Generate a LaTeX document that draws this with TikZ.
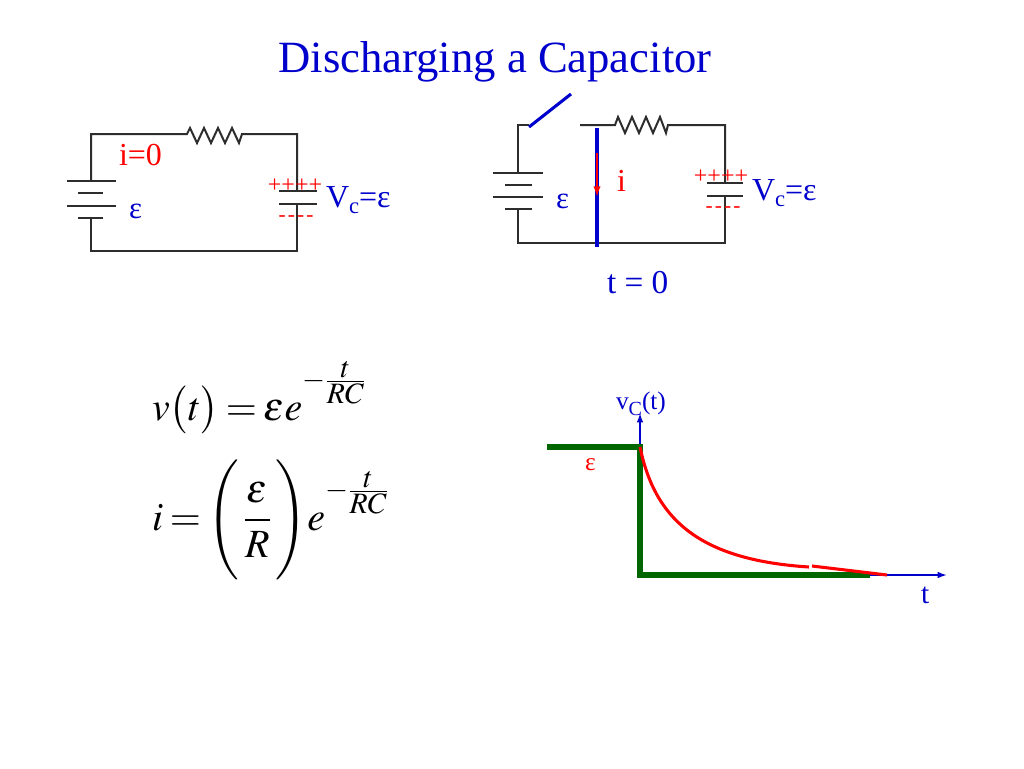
\documentclass[tikz,border=0pt]{standalone}
\usepackage{mathptmx}
\usepackage[no-math]{fontspec}
\setmainfont{Liberation Serif}
\usetikzlibrary{arrows.meta}
\definecolor{tblue}{RGB}{0,0,204}
\definecolor{tred}{RGB}{255,0,0}
\definecolor{tgreen}{RGB}{0,102,0}
\definecolor{wirec}{RGB}{45,45,45}
\newcommand\fs[1]{\fontsize{#1}{#1}\selectfont}
\newcommand\lowc[2]{\raisebox{-#2}{\fs{#1}c}}
\newcommand\dashes{-\hspace{1.6pt}-\hspace{1.6pt}-\hspace{1.6pt}-}
\newcommand\expo{\raisebox{11pt}{$\scriptstyle -\frac{\scriptstyle t}{\scriptstyle RC}$}}
\begin{document}
\begin{tikzpicture}[x=0.75pt,y=-0.75pt,
  wire/.style={draw=wirec,line width=1.5pt,line join=miter},
  plate/.style={draw=wirec,line width=1.6pt},
  lbl/.style={inner sep=0pt,outer sep=0pt},
  bluelbl/.style={lbl,text=tblue},
  redlbl/.style={lbl,text=tred},
  axis/.style={draw=tblue,line width=1.3pt,-{Latex[length=7pt,width=5pt]}},
  stepline/.style={draw=tgreen,line width=3.8pt},
  decay/.style={draw=tred,line width=2.3pt}]
\useasboundingbox (0,0) rectangle (1024,768);
\fill[white] (0,0) rectangle (1024,768);

% title
\node[bluelbl,anchor=base] (title) at (495,72) {\fs{33.5}Discharging a Capacitor};

% ---------------- circuit 1 ----------------
\coordinate (tl1) at (91,134);
\coordinate (tr1) at (297,134);
\coordinate (br1) at (297,251);
\coordinate (bl1) at (91,251);
\draw[wire] (91,181) -- (tl1) -- (187,134) -- (190,128) -- (197,143) -- (204,128) -- (211,143) -- (218,128) -- (225,143) -- (232,128) -- (239,143) -- (242,134) -- (tr1) -- (297,191);
\draw[wire] (297,204) -- (br1) -- (bl1) -- (91,218);
\draw[plate] (67,181) -- (116,181);
\draw[plate] (78,193) -- (103,193);
\draw[plate] (67,206) -- (116,206);
\draw[plate] (78,218) -- (103,218);
\draw[plate] (279,191) -- (317,191);
\draw[plate] (279,204) -- (317,204);
\node[redlbl,anchor=base west] (i0) at (119,165) {\fs{24}i=0};
\node[bluelbl,anchor=base west] (eps1) at (129,218) {\fs{23}ε};
\node[redlbl,anchor=base] (plus1) at (295,192) {\fs{18}++++};
\node[redlbl,anchor=base] (minus1) at (296,221) {\fs{16}\dashes};
\node[bluelbl,anchor=base west] (vc1) at (326,207) {\fs{24}V\lowc{17}{5pt}=ε};

% ---------------- circuit 2 ----------------
\coordinate (tl2) at (518,125);
\coordinate (tr2) at (725,125);
\coordinate (br2) at (725,243);
\coordinate (bl2) at (518,243);
\coordinate (sw1) at (529,127);
\coordinate (sw2) at (571,94);
\draw[wire] (518,173) -- (tl2) -- (529,125);
\draw[wire] (580,125) -- (615,125) -- (618,117) -- (625,133) -- (632,117) -- (639,133) -- (646,117) -- (653,133) -- (660,117) -- (666,133) -- (668,125) -- (tr2) -- (725,183);
\draw[wire] (725,196) -- (br2) -- (bl2) -- (518,209);
\draw[plate] (493,173) -- (543,173);
\draw[plate] (505,185) -- (532,185);
\draw[plate] (493,197) -- (543,197);
\draw[plate] (505,209) -- (532,209);
\draw[plate] (707,183) -- (743,183);
\draw[plate] (707,196) -- (743,196);
\draw[draw=tblue,line width=2.3pt] (sw1) -- (sw2);
\coordinate (sh1) at (597,128);
\coordinate (sh2) at (597,247);
\draw[draw=tblue,line width=2.6pt] (sh1) -- (sh2);
\coordinate (ia) at (597,153);
\coordinate (ib) at (597,197);
\draw[draw=tred,line width=1.2pt,-{Latex[length=8pt,width=5.5pt]}] (ia) -- (ib);
\node[redlbl,anchor=base west] (i2) at (617,191) {\fs{24}i};
\node[bluelbl,anchor=base west] (eps2) at (556,208) {\fs{23}ε};
\node[redlbl,anchor=base] (plus2) at (721,183) {\fs{18}++++};
\node[redlbl,anchor=base] (minus2) at (723,212) {\fs{16}\dashes};
\node[bluelbl,anchor=base west] (vc2) at (752,200) {\fs{24}V\lowc{17}{5pt}=ε};
\node[bluelbl,anchor=base west] (t0) at (607,293) {\fs{25}t = 0};

% ---------------- equations ----------------
\node[lbl,anchor=base west] (eq1) at (152,420) {\fs{30}\thickmuskip=3mu$\displaystyle v\bigl(t\bigr)=\epsilon e^{\expo}$};
\node[lbl,anchor=base west] (eq2) at (152,530) {\fs{30}\thickmuskip=3mu$\displaystyle i=\Biggl(\mkern2mu\frac{\epsilon}{R}\mkern2mu\Biggr)e^{\expo}$};

% ---------------- graph ----------------
\coordinate (o) at (640,575);
\coordinate (ytop) at (640,413);
\coordinate (xend) at (947,575);
\draw[axis] (o) -- (ytop);
\draw[axis] (o) -- (xend);
\coordinate (g1) at (547,447);
\coordinate (g2) at (640,447);
\coordinate (g3) at (870,575);
\draw[stepline] (g1) -- (g2) -- (o) -- (g3);
\coordinate (r1) at (809,567);
\coordinate (r2) at (812,566);
\coordinate (r3) at (887,575);
\draw[decay] (g2) .. controls (655,520) and (700,560) .. (r1);
\draw[decay] (r2) -- (r3);
\node[bluelbl,anchor=base west] (vct) at (616,409) {\fs{19}v\raisebox{-5pt}{\fs{15}C}(t)};
\node[redlbl,anchor=base west] (epsg) at (585,470) {\fs{19}ε};
\node[bluelbl,anchor=base west] (tlab) at (921,603) {\fs{22}t};
\end{tikzpicture}
\end{document}
